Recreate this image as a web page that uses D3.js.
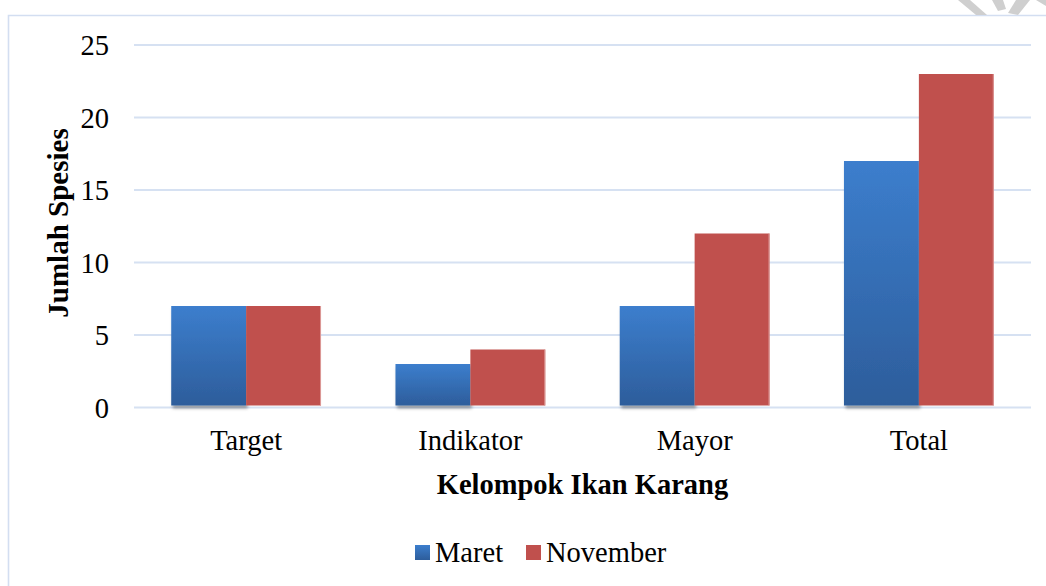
<!DOCTYPE html>
<html>
<head>
<meta charset="utf-8">
<script src="https://cdn.jsdelivr.net/npm/d3@7"></script>
<style>
    html, body { margin: 0; padding: 0; background: #ffffff; }
    svg { display: block; font-family: "Liberation Serif", "Times New Roman", serif; }
</style>
</head>
<body>
<div id="chart"></div>
<script>
// chart data
let categories = ["Target", "Indikator", "Mayor", "Total"];
let seriesNames = ["Maret", "November"];
let maret = [7, 3, 7, 17];
let november = [7, 4, 12, 23];
let yTicks = [0, 5, 10, 15, 20, 25];

let width = 1046;
let height = 586;
let margin = {top: 45, right: 15, bottom: 178.5, left: 134};

let svg = d3.select("#chart")
    .append("svg")
    .attr("width", width)
    .attr("height", height);

let defs = svg.append("defs");

// vertical gradient for the blue bars
let grad = defs.append("linearGradient")
    .attr("id", "blueGrad")
    .attr("x1", 0).attr("y1", 0)
    .attr("x2", 0).attr("y2", 1);
grad.append("stop").attr("offset", "0%").attr("stop-color", "#3c7ecd");
grad.append("stop").attr("offset", "100%").attr("stop-color", "#2d5d9b");

let legendGrad = defs.append("linearGradient")
    .attr("id", "blueGradLegend")
    .attr("x1", 0).attr("y1", 0)
    .attr("x2", 0).attr("y2", 1);
legendGrad.append("stop").attr("offset", "0%").attr("stop-color", "#3c7ecd");
legendGrad.append("stop").attr("offset", "100%").attr("stop-color", "#2d5d9b");

let shadow = defs.append("filter")
    .attr("id", "shadow")
    .attr("x", "-10%").attr("y", "-10%")
    .attr("width", "120%").attr("height", "130%");
shadow.append("feDropShadow")
    .attr("dx", 1.5)
    .attr("dy", 3)
    .attr("stdDeviation", 1.5)
    .attr("flood-color", "#000")
    .attr("flood-opacity", 0.35);

// outer chart frame (cropped on the right and bottom)
svg.append("path")
    .attr("d", `M${width + 5},15.5 H8.5 V${height + 5}`)
    .attr("fill", "none")
    .attr("stroke", "#d3def1")
    .attr("stroke-width", 1.6);

// watermark fragment in the top right corner
let wm = svg.append("g").attr("fill", "#cfcfcf");
wm.append("path").attr("d", "M958,0 L970,0 L987,15 L976,15 Z");
wm.append("path").attr("d", "M992,0 L1003,0 L1006,9 L998,11 Z");
wm.append("path").attr("d", "M1016,0 L1030,0 L1018,15 L1008,13 Z");
wm.append("path").attr("d", "M1036,0 L1046,0 L1046,6 Z");

let plotRight = width - margin.right;
let plotBottom = height - margin.bottom;

let x = d3.scaleBand()
    .domain(categories)
    .range([margin.left, plotRight])
    .paddingInner(0.332)
    .paddingOuter(0.166);

let xs = d3.scaleBand()
    .domain(seriesNames)
    .range([0, x.bandwidth()])
    .padding(0);

let y = d3.scaleLinear()
    .domain([0, 25])
    .range([plotBottom, margin.top]);

// gridlines
svg.append("g")
    .selectAll("line")
    .data(yTicks)
    .join("line")
    .attr("x1", margin.left)
    .attr("x2", plotRight)
    .attr("y1", d => y(d))
    .attr("y2", d => y(d))
    .attr("stroke", "#d6e1f2")
    .attr("stroke-width", 2);

// y axis labels
let yAxis = svg.append("g")
    .attr("transform", `translate(${margin.left - 25},0)`)
    .call(d3.axisLeft(y).tickValues(yTicks).tickSize(0).tickPadding(0));
yAxis.select(".domain").remove();
yAxis.selectAll("text")
    .attr("font-family", "Liberation Serif")
    .attr("font-size", 28.5)
    .attr("fill", "#000")
    .attr("dy", "0.34em");

// x axis labels
let xAxis = svg.append("g")
    .attr("transform", `translate(0,${plotBottom})`)
    .call(d3.axisBottom(x).tickSize(0).tickPadding(0));
xAxis.select(".domain").remove();
xAxis.selectAll("text")
    .attr("font-family", "Liberation Serif")
    .attr("font-size", 28.5)
    .attr("fill", "#000")
    .attr("y", 42)
    .attr("dy", 0);

// bars
let rows = categories.map((c, i) => ({cat: c, Maret: maret[i], November: november[i]}));

let groups = svg.append("g")
    .selectAll("g")
    .data(rows)
    .join("g")
    .attr("transform", d => `translate(${x(d.cat)},0)`);

groups.append("rect")
    .attr("x", xs("Maret"))
    .attr("y", d => y(d.Maret))
    .attr("width", xs.bandwidth())
    .attr("height", d => y(0) - 2 - y(d.Maret))
    .attr("fill", "url(#blueGrad)")
    .attr("filter", "url(#shadow)");

groups.append("rect")
    .attr("x", xs("November"))
    .attr("y", d => y(d.November))
    .attr("width", xs.bandwidth())
    .attr("height", d => y(0) - 2 - y(d.November))
    .attr("fill", "#c0504d");

// light right edge on red bars
groups.append("line")
    .attr("x1", xs("November") + xs.bandwidth() - 0.5)
    .attr("x2", xs("November") + xs.bandwidth() - 0.5)
    .attr("y1", d => y(d.November))
    .attr("y2", y(0) - 2)
    .attr("stroke", "#dc9997")
    .attr("stroke-width", 1);

// axis titles
svg.append("text")
    .attr("x", (margin.left + plotRight) / 2)
    .attr("y", 494)
    .attr("text-anchor", "middle")
    .attr("font-size", 28.5)
    .attr("font-weight", "bold")
    .attr("fill", "#000")
    .text("Kelompok Ikan Karang");

svg.append("text")
    .attr("transform", `translate(68,223) rotate(-90)`)
    .attr("text-anchor", "middle")
    .attr("font-size", 29)
    .attr("font-weight", "bold")
    .attr("fill", "#000")
    .text("Jumlah Spesies");

// legend
let legendItems = [
    {name: seriesNames[0], fill: "url(#blueGradLegend)", x: 415},
    {name: seriesNames[1], fill: "#c0504d", x: 526}
];

let legend = svg.append("g")
    .selectAll("g")
    .data(legendItems)
    .join("g")
    .attr("transform", d => `translate(${d.x},545)`);

legend.append("rect")
    .attr("width", 15)
    .attr("height", 15)
    .attr("fill", d => d.fill);

legend.append("text")
    .attr("x", 20)
    .attr("y", 17)
    .attr("font-size", 28.5)
    .attr("fill", "#000")
    .text(d => d.name);
</script>
</body>
</html>
